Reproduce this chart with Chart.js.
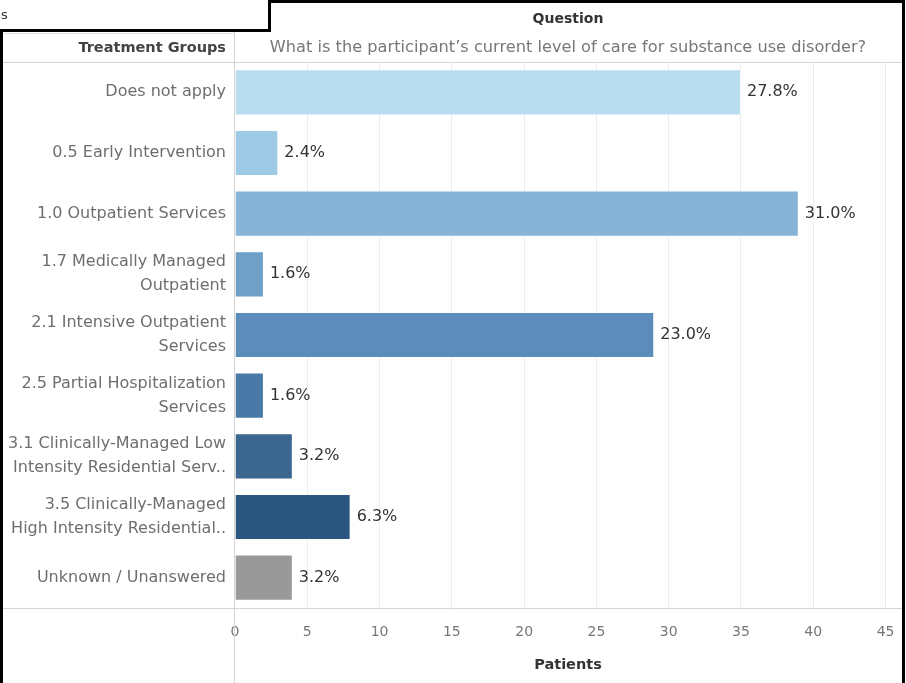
<!DOCTYPE html>
<html>
<head>
<meta charset="utf-8">
<script src="https://cdn.jsdelivr.net/npm/chart.js@4"></script>
<style>
  html, body { margin: 0; padding: 0; background: #fff; }
  #wrap { width: 906px; height: 683px; position: relative; }
</style>
</head>
<body>
<div id="wrap"><canvas id="myChart" width="906" height="683"></canvas></div>
<script>
// data
const categories = [
  'Does not apply',
  '0.5 Early Intervention',
  '1.0 Outpatient Services',
  ['1.7 Medically Managed', 'Outpatient'],
  ['2.1 Intensive Outpatient', 'Services'],
  ['2.5 Partial Hospitalization', 'Services'],
  ['3.1 Clinically-Managed Low', 'Intensity Residential Serv..'],
  ['3.5 Clinically-Managed', 'High Intensity Residential..'],
  'Unknown / Unanswered'
];
const patients = [35, 3, 39, 2, 29, 2, 4, 8, 4];
const pctLabels = ['27.8%', '2.4%', '31.0%', '1.6%', '23.0%', '1.6%', '3.2%', '6.3%', '3.2%'];
const xTicks = [0, 5, 10, 15, 20, 25, 30, 35, 40, 45];
const barColors = ['#b9ddf0', '#9fcae5', '#86b3d8', '#6fa1c8', '#5b8cba', '#4a79a8', '#3a6690', '#2b5680', '#999999'];

const FONT = '"DejaVu Sans", sans-serif';

/* 머리글, 테두리, 값 라벨 */
const decor = {
  id: 'decor',
  beforeDraw(chart) {
    const c = chart.ctx;
    c.save();
    c.fillStyle = '#fff';
    c.fillRect(0, 0, chart.width, chart.height);
    c.restore();
  },
  afterDraw(chart) {
    const c = chart.ctx;
    c.save();
    // light divider lines
    c.strokeStyle = '#d4d4d4';
    c.lineWidth = 1;
    c.beginPath();
    c.moveTo(3, 62.5); c.lineTo(902, 62.5);
    c.moveTo(3, 608.5); c.lineTo(902, 608.5);
    c.moveTo(234.5, 32); c.lineTo(234.5, 683);
    c.stroke();
    c.strokeStyle = '#e4e4e4';
    c.beginPath();
    c.moveTo(3, 33.5); c.lineTo(234, 33.5);
    c.stroke();

    // value labels beside each bar
    const meta = chart.getDatasetMeta(0);
    c.fillStyle = '#333';
    c.font = '16px ' + FONT;
    c.textAlign = 'left';
    c.textBaseline = 'middle';
    meta.data.forEach((bar, i) => {
      c.fillText(pctLabels[i], bar.x + 6, bar.y);
    });

    // headers
    c.textAlign = 'center';
    c.fillStyle = '#333';
    c.font = 'bold 14px ' + FONT;
    c.fillText('Question', 568, 19);
    c.fillStyle = '#777';
    c.font = '16.2px ' + FONT;
    c.fillText('What is the participant\u2019s current level of care for substance use disorder?', 568, 48);
    c.textAlign = 'right';
    c.fillStyle = '#444';
    c.font = 'bold 14.5px ' + FONT;
    c.fillText('Treatment Groups', 226, 48);
    c.textAlign = 'center';
    c.fillStyle = '#333';
    c.fillText('Patients', 568, 665);

    // black frames
    c.strokeStyle = '#000';
    c.lineWidth = 3;
    c.beginPath();
    c.moveTo(1.5, 32); c.lineTo(1.5, 683);
    c.moveTo(268, 1.5); c.lineTo(903.5, 1.5); c.lineTo(903.5, 683);
    c.stroke();
    c.fillStyle = '#fff';
    c.fillRect(0, 0, 268, 30);
    c.beginPath();
    c.moveTo(0, 30.5); c.lineTo(269.5, 30.5); c.lineTo(269.5, 0);
    c.stroke();
    c.fillStyle = '#333';
    c.textAlign = 'left';
    c.font = '13px ' + FONT;
    c.fillText('s', 1, 16);
    c.restore();
  }
};

const ctx = document.getElementById('myChart').getContext('2d');
new Chart(ctx, {
  type: 'bar',
  data: {
    labels: categories,
    datasets: [{
      data: patients,
      backgroundColor: barColors,
      borderColor: 'rgba(255,255,255,0.6)',
      borderWidth: 1,
      categoryPercentage: 1,
      barPercentage: 0.76
    }]
  },
  options: {
    responsive: false,
    animation: false,
    indexAxis: 'y',
    layout: { padding: { top: 62, right: 6, left: 0, bottom: 0 } },
    plugins: {
      legend: { display: false },
      tooltip: { enabled: false }
    },
    scales: {
      x: {
        min: 0,
        max: 46,
        afterFit(scale) {
          scale.height = 75;
          scale.paddingLeft = 0;
          scale.paddingRight = 0;
        },
        afterBuildTicks(scale) {
          scale.ticks = xTicks.map(v => ({ value: v }));
        },
        grid: {
          color: (c) => c.tick && c.tick.value === 0 ? 'rgba(0,0,0,0)' : '#ececec',
          drawTicks: false
        },
        border: { display: false },
        ticks: {
          color: '#777',
          padding: 16,
          maxRotation: 0,
          font: { family: FONT, size: 14 }
        }
      },
      y: {
        afterFit(scale) { scale.width = 235; },
        grid: { display: false },
        border: { display: false },
        ticks: {
          color: '#6e6e6e',
          padding: 1,
          font: { family: FONT, size: 16, lineHeight: 1.5 }
        }
      }
    }
  },
  plugins: [decor]
});
</script>
</body>
</html>
